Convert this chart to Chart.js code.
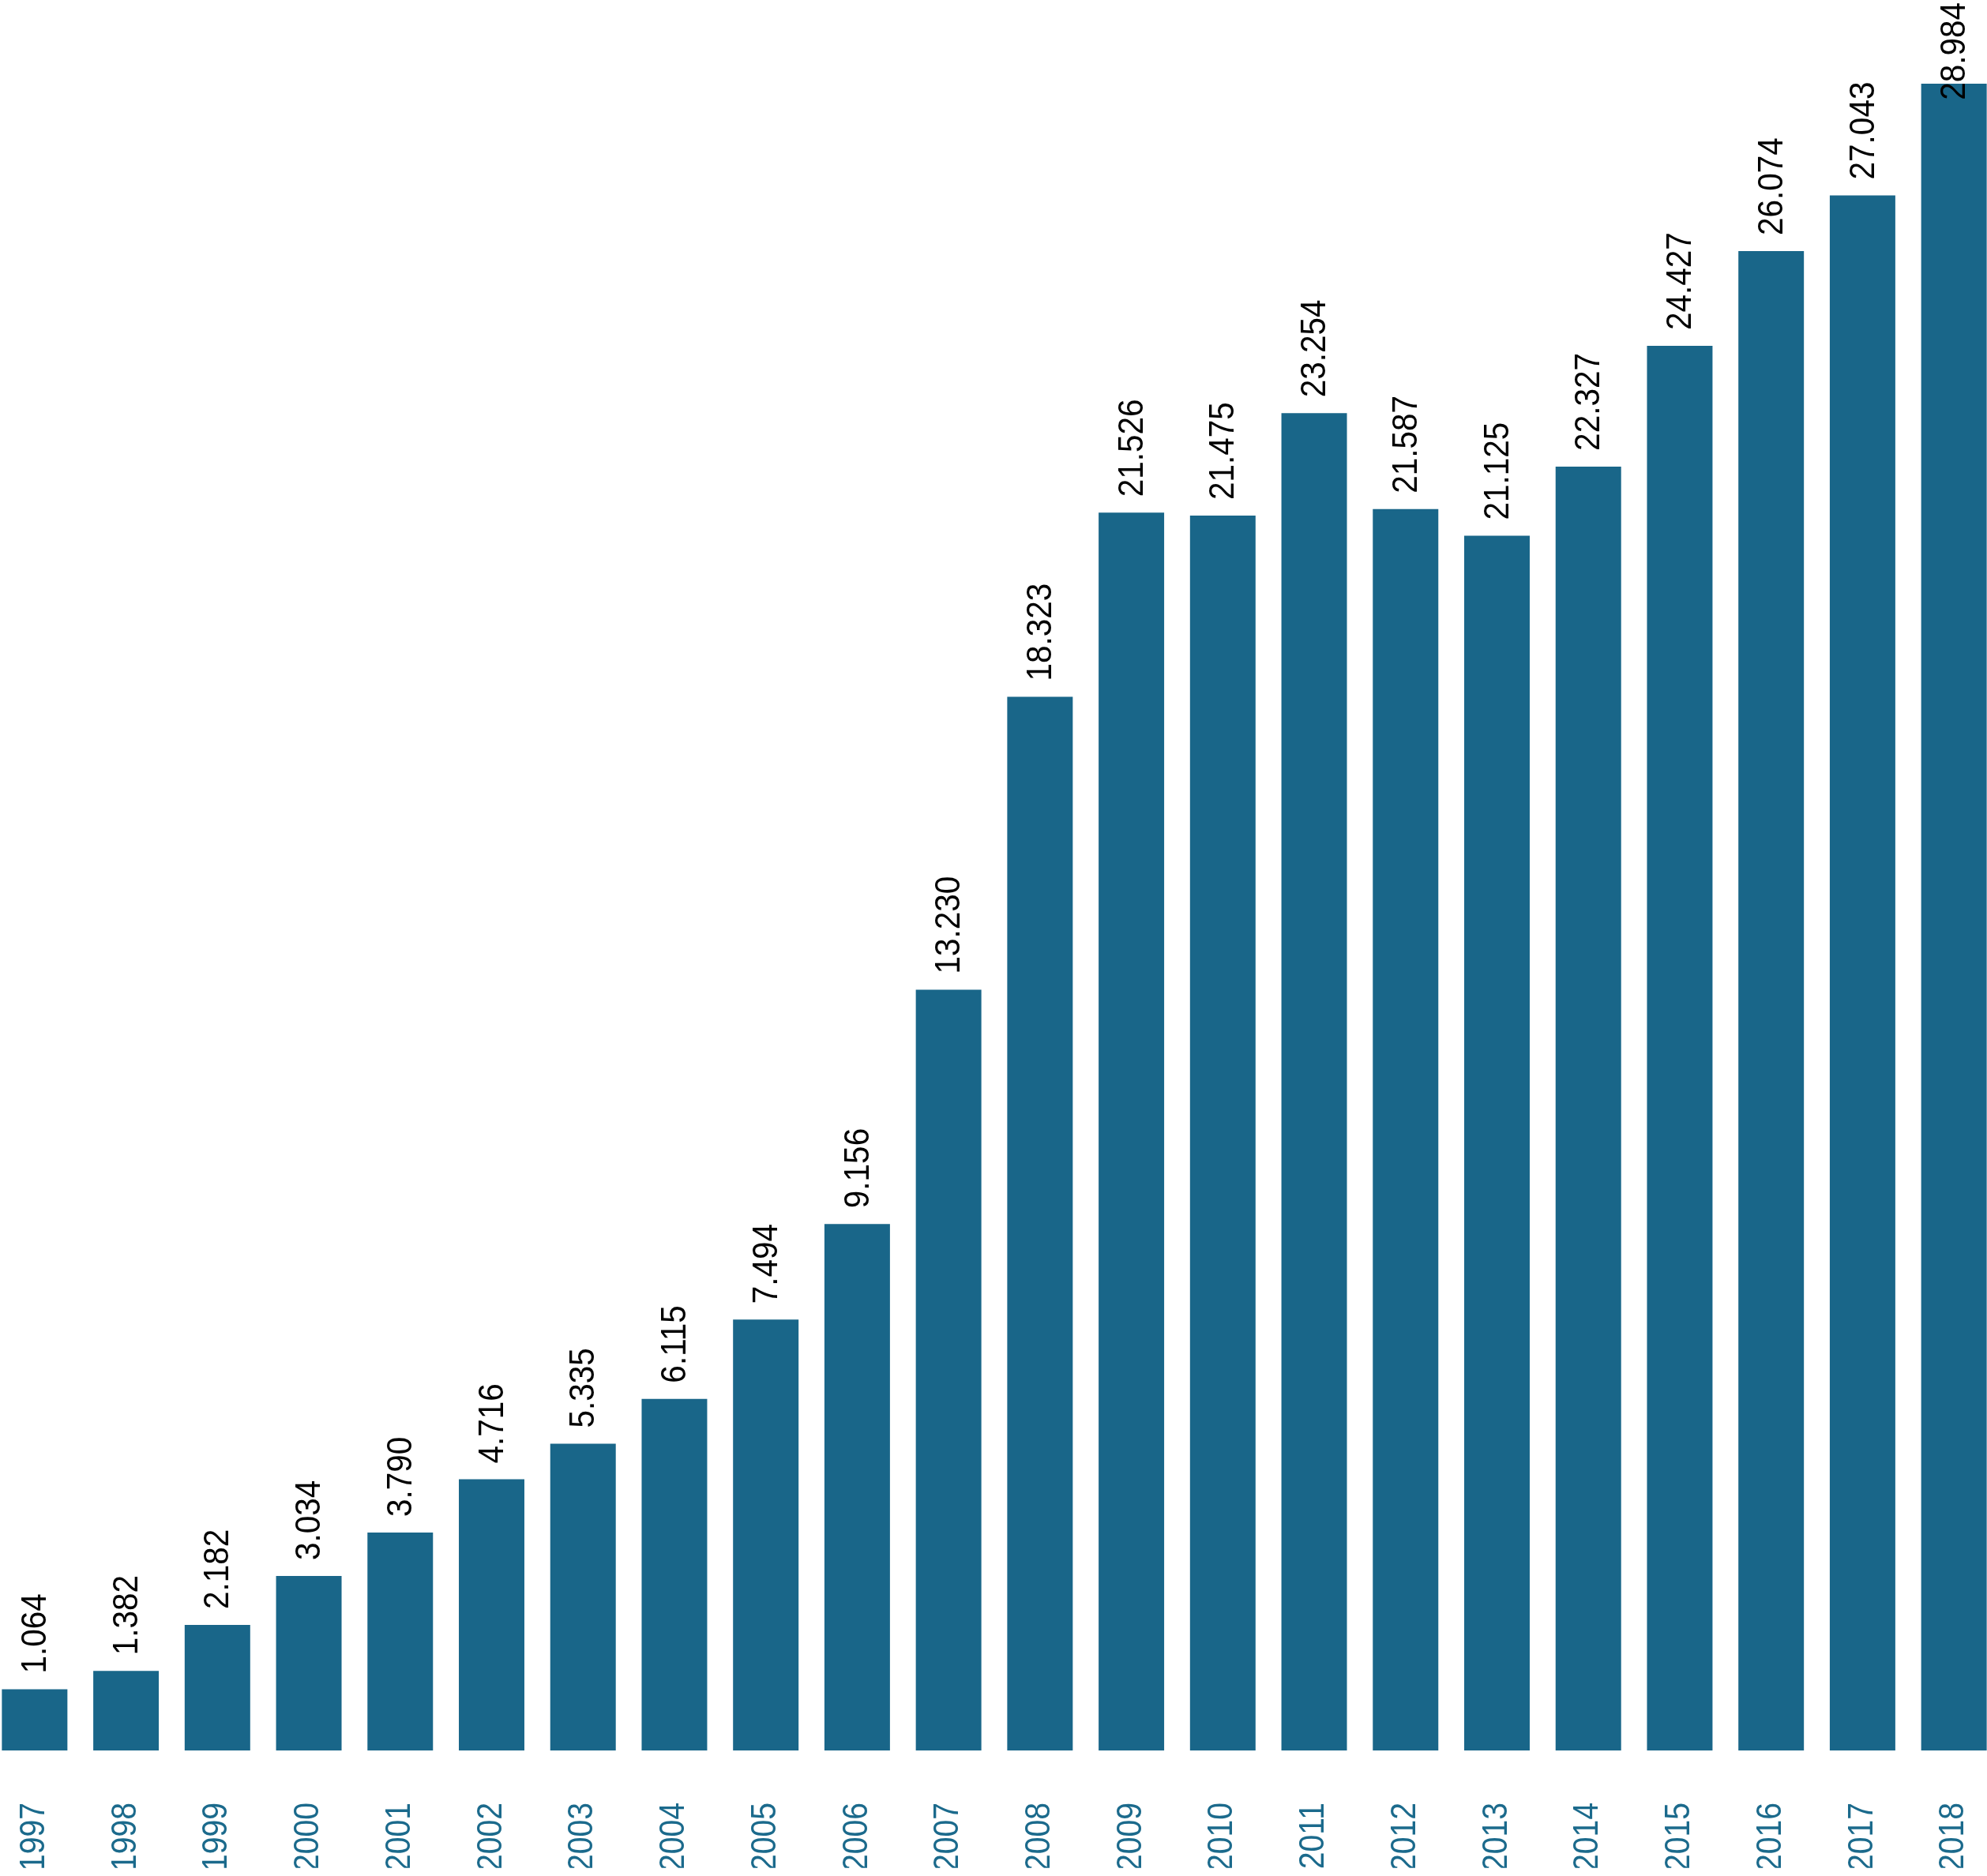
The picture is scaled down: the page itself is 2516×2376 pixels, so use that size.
<!DOCTYPE html>
<html>
<head>
<meta charset="utf-8">
<script src="https://cdn.jsdelivr.net/npm/chart.js@4/dist/chart.umd.min.js"></script>
<style>
  html, body { margin: 0; padding: 0; background: #fff; overflow: hidden; }
  body { width: 2516px; height: 2376px; position: relative; }
  #myChart { position: absolute; left: -14.5px; top: 0; width: 2546px; height: 2376px; }
</style>
</head>
<body>
<canvas id="myChart" width="2546" height="2376"></canvas>
<script>
// values per year, as printed above the bars
let years = ['1997', '1998', '1999', '2000', '2001', '2002', '2003', '2004', '2005', '2006', '2007',
  '2008', '2009', '2010', '2011', '2012', '2013', '2014', '2015', '2016', '2017', '2018'];
let values = [1.064, 1.382, 2.182, 3.034, 3.790, 4.716, 5.335, 6.115, 7.494, 9.156, 13.230,
  18.323, 21.526, 21.475, 23.254, 21.587, 21.125, 22.327, 24.427, 26.074, 27.043, 28.984];

let barColor = '#196689';
let fontFamily = "'Liberation Sans', Arial, sans-serif";
let tickPad = 66;

// draws the rotated value above each bar (text a bit narrow, like the original)
let valueLabels = {
  id: 'valueLabels',
  afterDatasetsDraw: (chart) => {
    let c = chart.ctx;
    let meta = chart.getDatasetMeta(0);
    c.save();
    c.fillStyle = '#000';
    c.font = '44px ' + fontFamily;
    c.textAlign = 'left';
    c.textBaseline = 'middle';
    meta.data.forEach((bar, i) => {
      let txt = values[i].toFixed(3);
      let len = c.measureText(txt).width * 0.92;
      // keep the top label inside the canvas
      let y = Math.max(bar.y - 20, len + 3);
      c.save();
      c.translate(bar.x, y);
      c.rotate(-Math.PI / 2);
      c.scale(0.92, 1);
      c.fillText(txt, 0, 2);
      c.restore();
    });
    c.restore();
  }
};

// squeeze the year labels along their length, same as the value labels
let squeezeTicks = {
  id: 'squeezeTicks',
  afterLayout: (chart) => {
    let s = chart.scales.x;
    if (s._squeezed) return;
    let draw = s.drawLabels;
    s.drawLabels = function (area) {
      let c = this.ctx;
      let y0 = this.top + tickPad;
      c.save();
      c.translate(0, y0);
      c.scale(1, 0.89);
      c.translate(0, -y0);
      draw.call(this, area);
      c.restore();
    };
    s._squeezed = true;
  }
};

let ctx = document.getElementById('myChart').getContext('2d');

let myChart = new Chart(ctx, {
  type: 'bar',
  data: {
    labels: years,
    datasets: [{
      data: values,
      backgroundColor: barColor,
      borderWidth: 0,
      categoryPercentage: 1,
      barPercentage: 0.717
    }]
  },
  options: {
    responsive: false,
    animation: false,
    layout: { padding: 0 },
    plugins: {
      legend: { display: false },
      tooltip: { enabled: false }
    },
    scales: {
      x: {
        grid: { display: false, drawTicks: false },
        border: { display: false },
        ticks: {
          color: '#1b6a8c',
          font: { size: 44, family: fontFamily },
          minRotation: 90,
          maxRotation: 90,
          autoSkip: false,
          padding: tickPad
        },
        afterFit: (scale) => {
          scale.height = 159;
          scale.paddingLeft = 0;
          scale.paddingRight = 0;
        }
      },
      y: {
        display: false,
        min: 0,
        max: 30.44
      }
    }
  },
  plugins: [valueLabels, squeezeTicks]
});
</script>
</body>
</html>
